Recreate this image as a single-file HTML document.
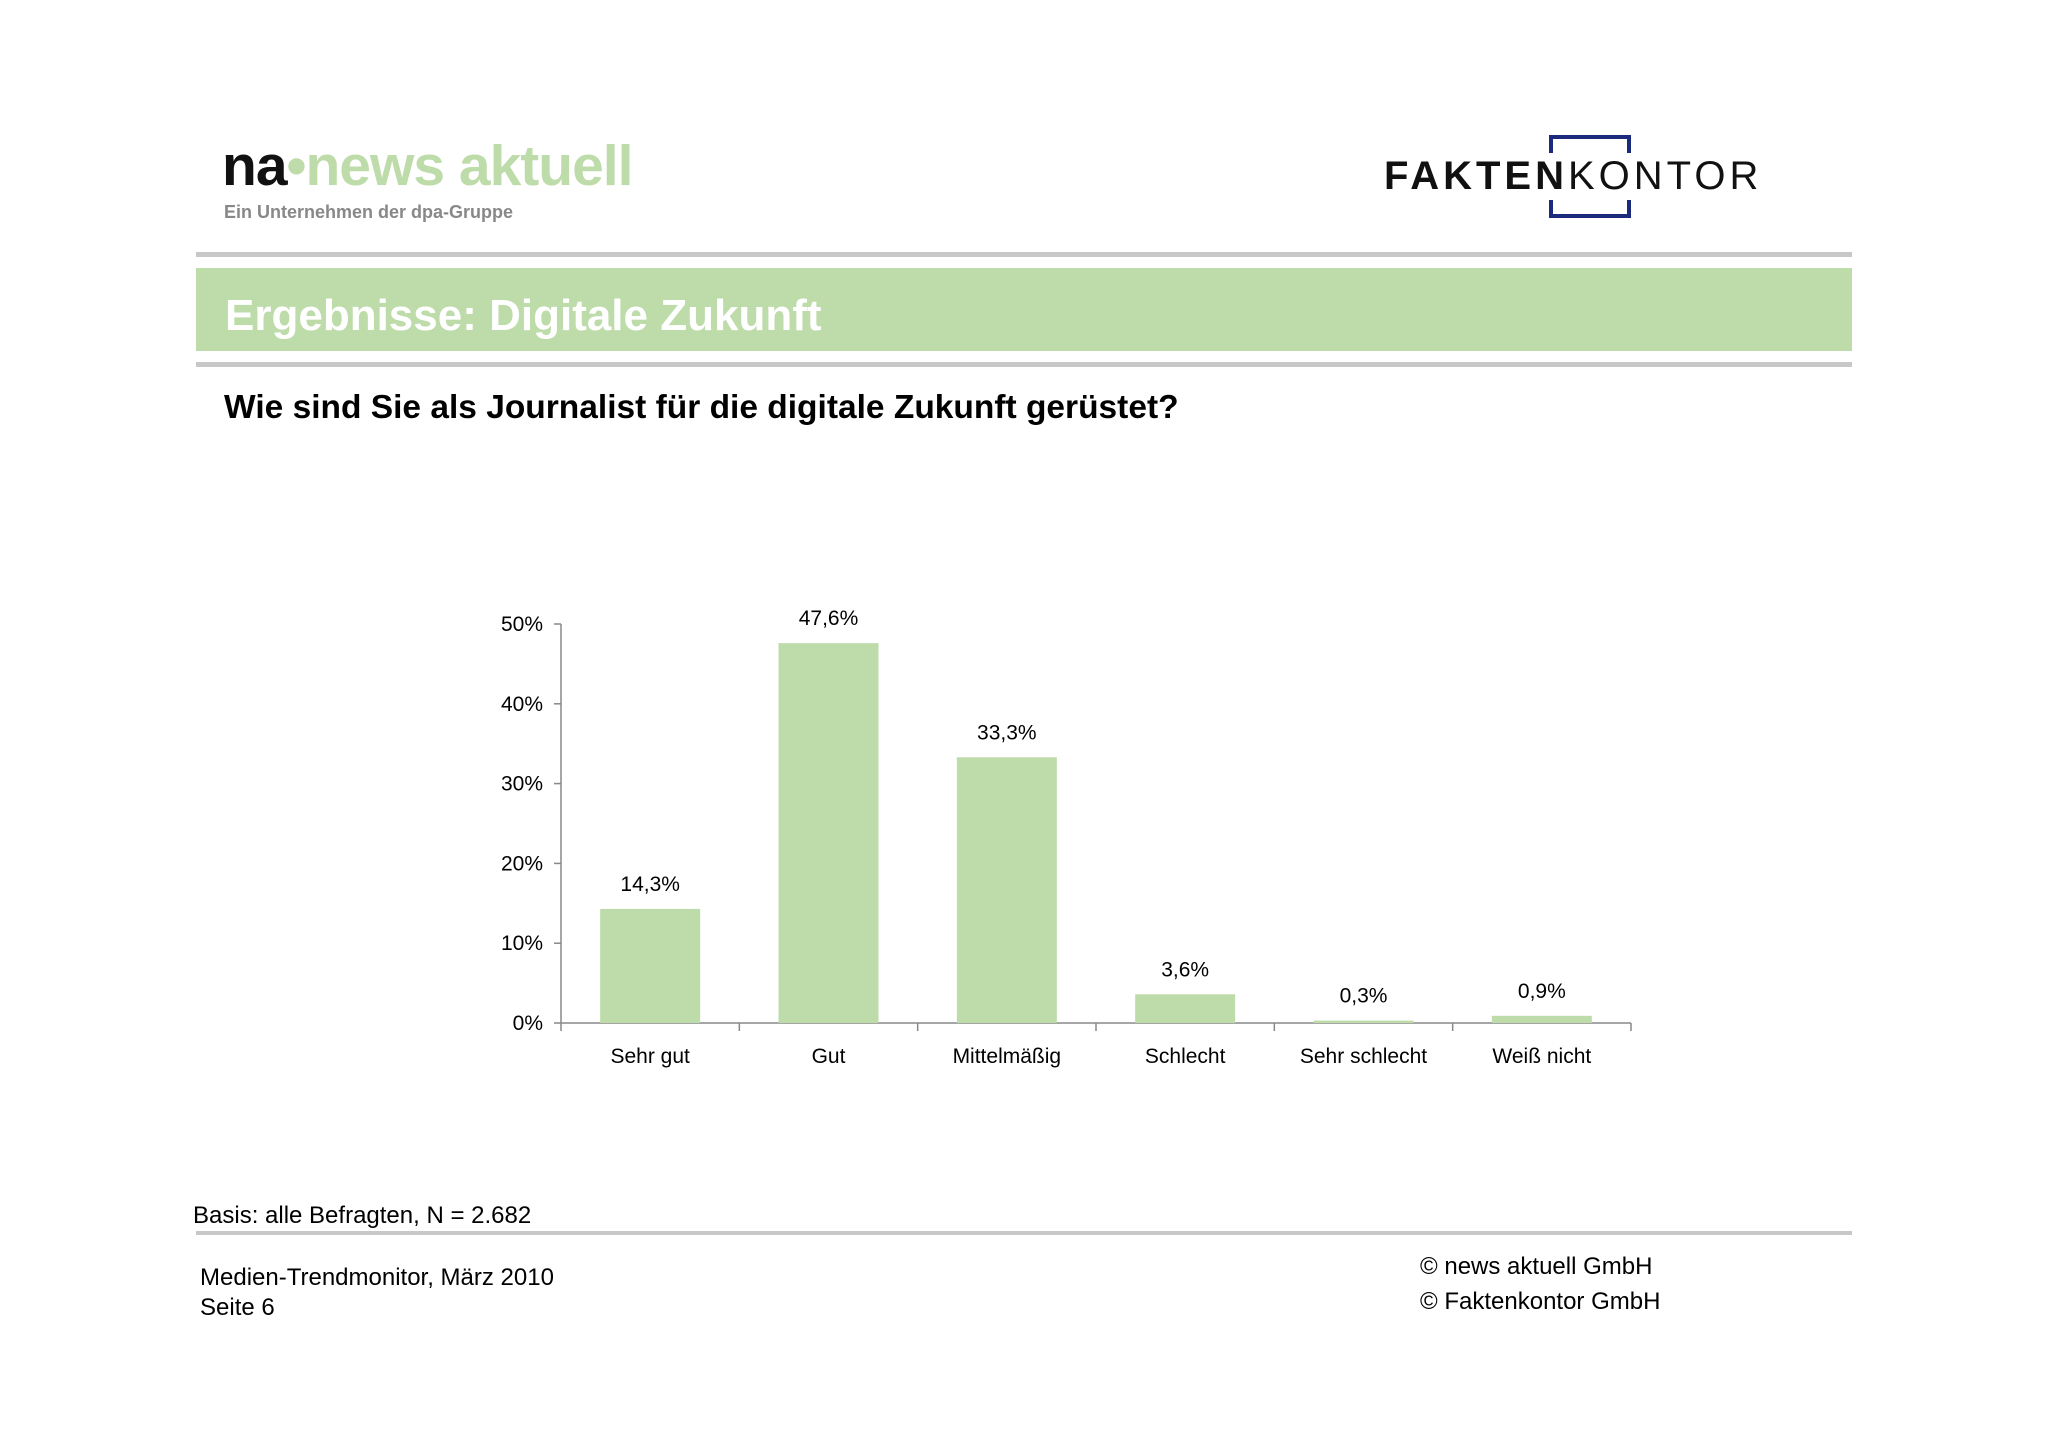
<!DOCTYPE html>
<html><head><meta charset="utf-8"><style>
body{margin:0;width:2048px;height:1447px;background:#fff;position:relative;font-family:"Liberation Sans",sans-serif;overflow:hidden}
.a{position:absolute;white-space:nowrap}
</style></head><body>
<div class="a" style="left:222px;top:138px;font-size:57px;font-weight:bold;letter-spacing:-1px;line-height:1"><span style="color:#111">na</span><span style="color:#bddcaa">•news aktuell</span></div>
<div class="a" style="left:224px;top:202px;font-size:18px;font-weight:bold;color:#888">Ein Unternehmen der dpa-Gruppe</div>
<div style="position:absolute;left:1549px;top:135px;width:74px;height:14px;border:4px solid #1b2a7a;border-bottom:none"></div>
<div style="position:absolute;left:1549px;top:200px;width:74px;height:14px;border:4px solid #1b2a7a;border-top:none"></div>
<div class="a" style="left:1384px;top:156px;font-size:40px;line-height:1;letter-spacing:4px"><b style="color:#111">FAKTEN</b><span style="color:#111">KONTOR</span></div>
<div style="position:absolute;left:196px;top:252px;width:1656px;height:5px;background:#c8c8c8"></div>
<div style="position:absolute;left:196px;top:268px;width:1656px;height:83px;background:#bddcaa"></div>
<div class="a" style="left:225px;top:291px;font-size:44px;font-weight:bold;color:#fff">Ergebnisse: Digitale Zukunft</div>
<div style="position:absolute;left:196px;top:362px;width:1656px;height:5px;background:#c8c8c8"></div>
<div class="a" style="left:224px;top:389px;font-size:33.5px;font-weight:bold;color:#000">Wie sind Sie als Journalist für die digitale Zukunft gerüstet?</div>
<svg id="chart" style="position:absolute;left:0;top:0" width="2048" height="1447"></svg>
<div class="a" style="left:193px;top:1202px;font-size:24px">Basis: alle Befragten, N = 2.682</div>
<div style="position:absolute;left:196px;top:1231px;width:1656px;height:4px;background:#c8c8c8"></div>
<div class="a" style="left:200px;top:1263px;font-size:24px;line-height:30px">Medien-Trendmonitor, März 2010<br>Seite 6</div>
<div class="a" style="left:1420px;top:1249px;font-size:24px;line-height:35px">© news aktuell GmbH<br>© Faktenkontor GmbH</div>
<script>
const categories=["Sehr gut","Gut","Mittelmäßig","Schlecht","Sehr schlecht","Weiß nicht"];
const values=[14.3,47.6,33.3,3.6,0.3,0.9];
const valueLabels=["14,3%","47,6%","33,3%","3,6%","0,3%","0,9%"];
const ticks=[0,10,20,30,40,50];
const tickLabels=["0%","10%","20%","30%","40%","50%"];
const svg=document.getElementById('chart');const NS='http://www.w3.org/2000/svg';
const x0=561,x1=1631,y0=1023,yTop=624,max=50;
const y=v=>y0-(v/max)*(y0-yTop);
const bw=(x1-x0)/categories.length;
function mk(t,a,txt){const e=document.createElementNS(NS,t);for(const k in a)e.setAttribute(k,a[k]);if(txt!=null)e.textContent=txt;svg.appendChild(e);return e;}
let e=mk('line',{x1:x0,y1:y(max),x2:x0,y2:y0,stroke:'#888','stroke-width':1.5});


e=mk('line',{x1:x0,y1:y0,x2:x1,y2:y0,stroke:'#888','stroke-width':1.5});


ticks.forEach((t,i)=>{
 let l=mk('line',{x1:x0-7,y1:y(t),x2:x0,y2:y(t),stroke:'#888','stroke-width':1.5});
 
 
 let tx=mk('text',{x:x0-18,y:y(t)+7,'text-anchor':'end','font-size':21,'font-family':'Liberation Sans, sans-serif'},tickLabels[i]);
 
 
});
for(let i=0;i<=categories.length;i++){
 let l=mk('line',{x1:x0+i*bw,y1:y0,x2:x0+i*bw,y2:y0+8,stroke:'#888','stroke-width':1.5});
 
 
}
categories.forEach((c,i)=>{
 const cx=x0+(i+0.5)*bw;
 let r=mk('rect',{x:cx-50,y:y(values[i]),width:100,height:y0-y(values[i]),fill:'#bddcaa'});
 
 
 let v=mk('text',{x:cx,y:y(values[i])-18,'text-anchor':'middle','font-size':21,'font-family':'Liberation Sans, sans-serif'},valueLabels[i]);
 
 
 let t=mk('text',{x:cx,y:y0+40,'text-anchor':'middle','font-size':21,'font-family':'Liberation Sans, sans-serif'},c);
 
 
});
</script>
</body></html>
